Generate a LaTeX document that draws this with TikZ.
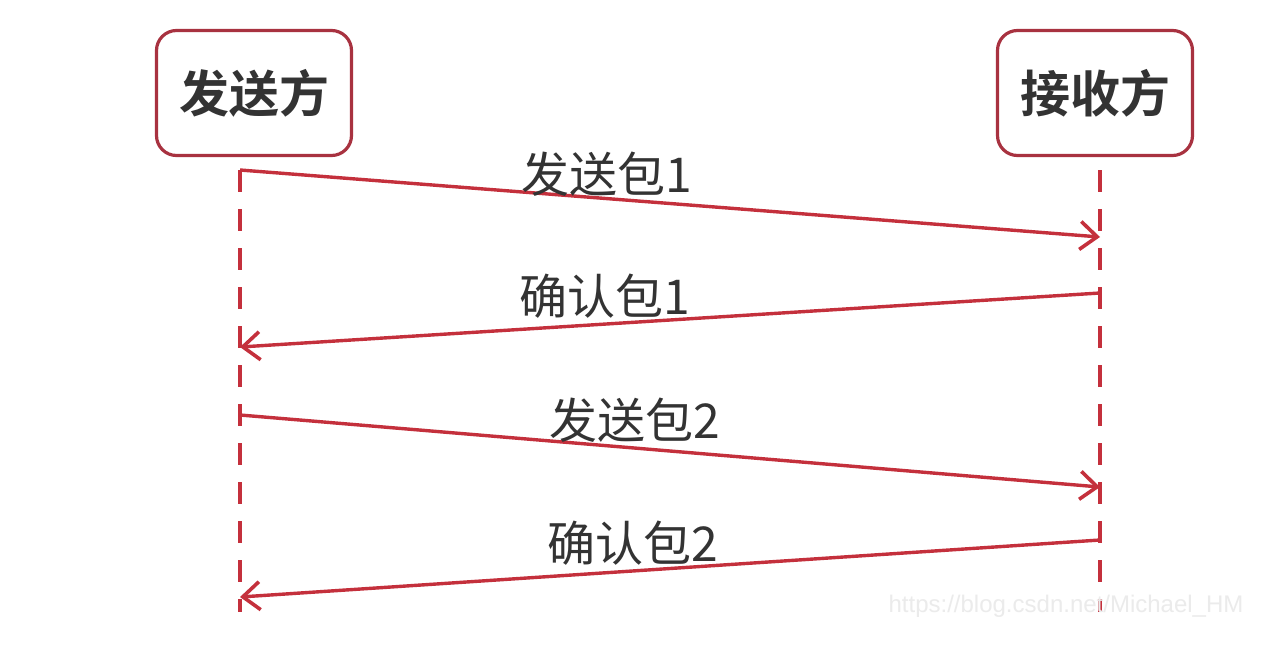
\documentclass[tikz,border=0pt]{standalone}
\usepackage{fontspec}
\newfontfamily\cjk{Noto Sans CJK SC}
\newfontfamily\cjkb{Noto Sans CJK SC Bold}
\setsansfont{Liberation Sans}
\usetikzlibrary{arrows.meta}
\definecolor{boxred}{HTML}{A83240}
\definecolor{linered}{HTML}{C4303C}
\definecolor{txt}{HTML}{333333}
\begin{document}
\begin{tikzpicture}[x=1pt,y=-1pt,
  party/.style={draw=boxred,line width=3.2pt,rounded corners=20pt,fill=white,
    minimum width=195pt,minimum height=125pt,inner sep=0pt,
    font=\cjkb\fontsize{50}{56}\selectfont,text=txt},
  lifeline/.style={draw=linered,line width=3.8pt,dash pattern=on 22pt off 17pt},
  msg/.style={draw=linered,line width=3.4pt,-{Straight Barb[length=17pt,width=28pt,line width=3.6pt]}},
  msglabel/.style={font=\cjk\fontsize{48}{54}\selectfont,text=txt,inner sep=0pt}]
\useasboundingbox (0,0) rectangle (1284,670);
\fill[white] (0,0) rectangle (1284,670);
\node[party] (snd) at (254,93) {发送方};
\node[party] (rcv) at (1095,93) {接收方};
\coordinate (sTop) at (240,170);
\coordinate (sBot) at (240,612);
\coordinate (rTop) at (1100,170);
\coordinate (rBot) at (1100,612);
\draw[lifeline] (sTop) -- (sBot);
\draw[lifeline] (rTop) -- (rBot);
\coordinate (a1s) at (240,170);
\coordinate (a1e) at (1100,237);
\coordinate (a2s) at (1100,293);
\coordinate (a2e) at (240,347);
\coordinate (a3s) at (240,415);
\coordinate (a3e) at (1100,487);
\coordinate (a4s) at (1100,540);
\coordinate (a4e) at (240,597);
\draw[msg] (a1s) -- (a1e);
\draw[msg] (a2s) -- (a2e);
\draw[msg] (a3s) -- (a3e);
\draw[msg] (a4s) -- (a4e);
\node[msglabel] (l1) at (607,174) {发送包1};
\node[msglabel] (l2) at (605,296) {确认包1};
\node[msglabel] (l3) at (635,420) {发送包2};
\node[msglabel] (l4) at (633,543) {确认包2};
\node[font=\sffamily\fontsize{24}{28}\selectfont,text=black!8,inner sep=0pt] (wm) at (1066,606) {https://blog.csdn.net/Michael\_HM};
\end{tikzpicture}
\end{document}
